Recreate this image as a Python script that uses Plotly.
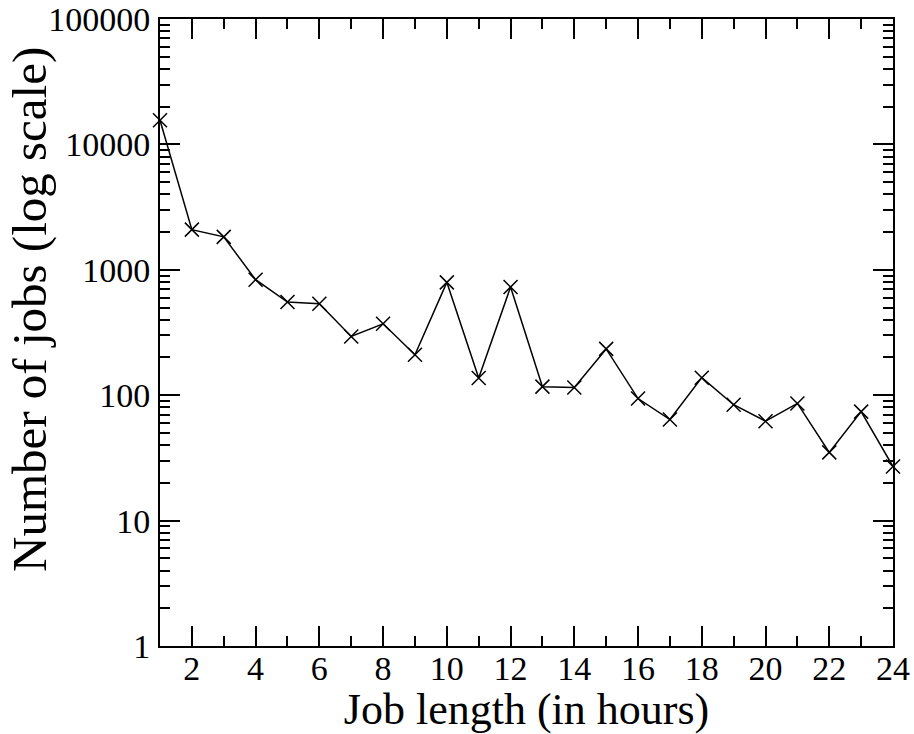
import plotly.graph_objects as go

hours = list(range(1, 25))
jobs = [15560, 2090, 1830, 834, 553, 536, 294, 371, 210, 794, 137, 729,
        117, 115, 234, 94, 64, 138, 84, 62, 86, 35, 74, 27]

x_tickvals = [2, 4, 6, 8, 10, 12, 14, 16, 18, 20, 22, 24]
y_tickvals = [1, 10, 100, 1000, 10000, 100000]
y_ticktext = ["1", "10", "100", "1000", "10000", "100000"]

x_title = "Job length (in hours)"
y_title = "Number of jobs (log scale)"

FONT = "Liberation Serif"

fig = go.Figure()
fig.add_trace(go.Scatter(
    x=hours, y=jobs, mode="lines+markers",
    line=dict(color="black", width=1.5),
    marker=dict(symbol="x-thin", size=14, line=dict(color="black", width=1.5)),
    cliponaxis=False, showlegend=False,
))

fig.update_layout(
    width=914, height=734,
    margin=dict(l=160, r=21, t=19, b=88, autoexpand=False),
    paper_bgcolor="white", plot_bgcolor="white",
    font=dict(family=FONT, color="black", size=34),
)

fig.update_xaxes(
    range=[1, 24], tickvals=x_tickvals, automargin=False,
    ticks="inside", ticklen=20, tickwidth=1.5, tickcolor="black",
    minor=dict(ticks="inside", ticklen=10, tickwidth=1.5, tickcolor="black", dtick=1, tick0=0),
    showline=True, linecolor="black", linewidth=2, mirror="allticks",
    showgrid=False, zeroline=False, ticklabelstandoff=-9,
    tickfont=dict(size=34, family=FONT),
    title=dict(text=x_title, font=dict(size=44, family=FONT), standoff=0),
)
fig.update_yaxes(
    type="log", range=[0, 5], tickvals=y_tickvals, ticktext=y_ticktext, automargin=False,
    ticks="inside", ticklen=20, tickwidth=1.5, tickcolor="black",
    minor=dict(ticks="inside", ticklen=10, tickwidth=1.5, tickcolor="black", dtick="D1"),
    showline=True, linecolor="black", linewidth=2, mirror="allticks",
    showgrid=False, zeroline=False, ticklabelstandoff=1,
    tickfont=dict(size=34, family=FONT),
)

fig.add_annotation(
    text=y_title, textangle=-90, showarrow=False,
    xref="paper", yref="paper",
    x=(29 - 160) / 733, y=(646 - 310) / 627,
    xanchor="center", yanchor="middle",
    font=dict(size=49, family=FONT, color="black"),
)

fig.write_html("out.html")
